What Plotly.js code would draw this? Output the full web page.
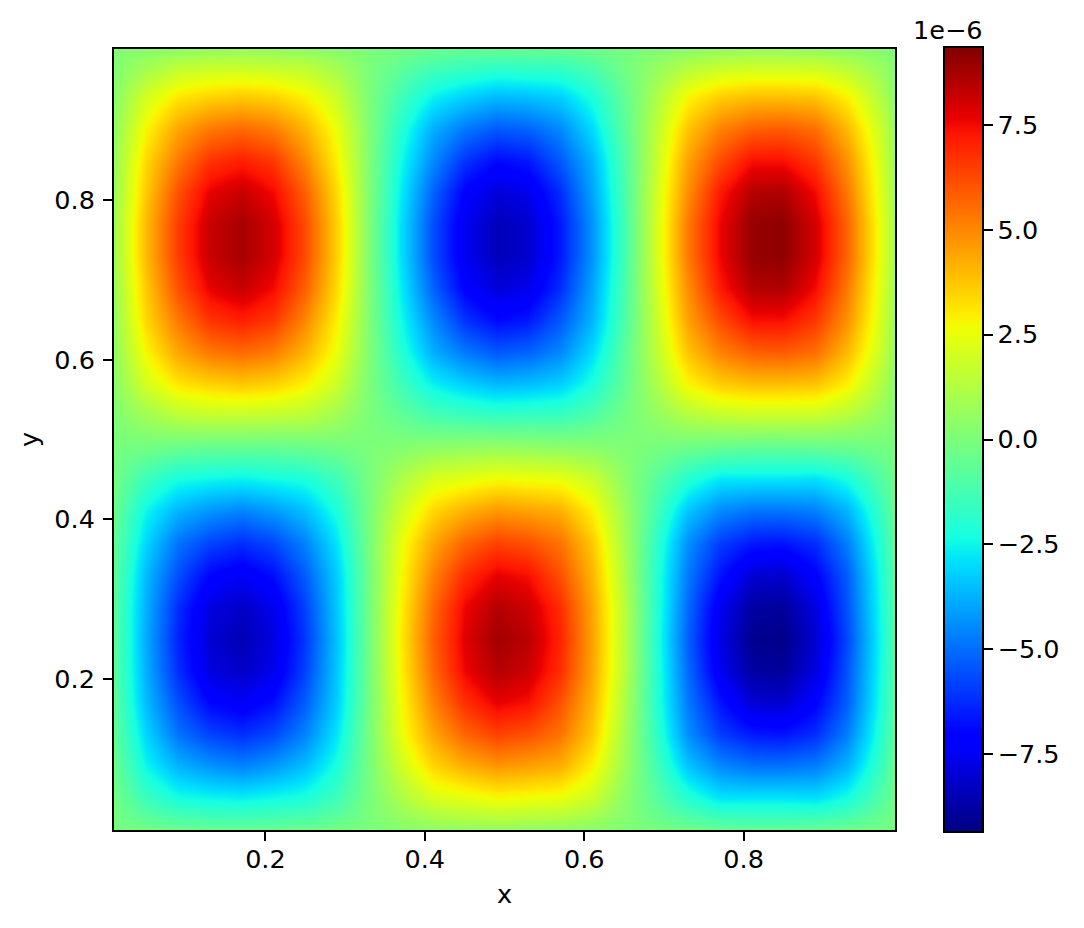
<!DOCTYPE html>
<html>
<head>
<meta charset="utf-8">
<script src="https://cdn.plot.ly/plotly-3.0.1.min.js"></script>
<style>html,body{margin:0;padding:0;background:#fff}</style>
</head>
<body>
<div id="chart" style="width:1084px;height:928px"></div>
<script>
const xValues = [0.01,0.05,0.09,0.13,0.17,0.21,0.25,0.29,0.33,0.37,0.41,0.45,0.49,0.53,0.57,0.61,0.65,0.69,0.73,0.77,0.81,0.85,0.89,0.93,0.97,0.99];
const yValues = [0.01,0.05,0.09,0.13,0.17,0.21,0.25,0.29,0.33,0.37,0.41,0.45,0.49,0.53,0.57,0.61,0.65,0.69,0.73,0.77,0.81,0.85,0.89,0.93,0.97,0.99];
// values in units of 1e-6, rows run from y = 0.01 up to y = 0.99
const zValues = [
[-.1,-.2,-.4,-.5,-.5,-.5,-.4,-.2,0,.2,.4,.5,.6,.5,.4,.3,.1,-.1,-.3,-.5,-.6,-.6,-.5,-.4,-.2,-.1],
[-.2,-1.5,-2.3,-2.5,-2.6,-2.4,-2.2,-1.4,-.1,1.1,2.1,2.4,2.7,2.6,2.5,1.8,.4,-.8,-2.0,-2.8,-2.8,-2.8,-2.9,-2.3,-1.0,-.3],
[-.4,-2.5,-3.7,-4.3,-4.6,-4.2,-3.5,-2.2,-.1,1.9,3.4,4.2,4.7,4.5,4.2,2.9,.8,-1.3,-3.4,-4.5,-4.9,-4.9,-4.7,-3.7,-1.7,-.5],
[-.6,-3.1,-4.9,-5.8,-6.2,-5.7,-4.6,-2.8,-.1,2.5,4.4,5.7,6.4,6.1,5.4,3.7,1.0,-1.7,-4.4,-5.9,-6.6,-6.7,-6.2,-4.7,-2.1,-.7],
[-.7,-3.6,-5.6,-7.0,-7.4,-6.8,-5.3,-3.2,-.2,2.7,5.1,6.8,7.7,7.4,6.1,4.1,1.2,-1.9,-4.8,-6.7,-8.0,-8.1,-7.1,-5.3,-2.4,-.8],
[-.8,-3.8,-6.2,-7.8,-8.2,-7.6,-5.8,-3.3,-.2,2.9,5.6,7.6,8.5,8.1,6.8,4.4,1.4,-1.9,-5.1,-7.5,-8.8,-8.9,-7.8,-5.5,-2.5,-.9],
[-.8,-3.9,-6.4,-8.0,-8.5,-7.8,-6.0,-3.4,-.2,3.0,5.8,7.8,8.8,8.4,7.0,4.5,1.4,-2.0,-5.3,-7.7,-9.1,-9.2,-8.1,-5.7,-2.6,-.9],
[-.8,-3.8,-6.2,-7.8,-8.2,-7.6,-5.8,-3.3,-.2,2.9,5.6,7.6,8.5,8.1,6.8,4.4,1.4,-1.9,-5.1,-7.5,-8.8,-8.9,-7.8,-5.5,-2.5,-.9],
[-.7,-3.6,-5.6,-7.0,-7.4,-6.8,-5.3,-3.2,-.2,2.7,5.1,6.8,7.7,7.4,6.1,4.1,1.2,-1.9,-4.8,-6.7,-8.0,-8.1,-7.1,-5.3,-2.4,-.8],
[-.6,-3.1,-4.9,-5.8,-6.2,-5.7,-4.6,-2.8,-.1,2.5,4.4,5.7,6.4,6.1,5.4,3.7,1.0,-1.7,-4.4,-5.9,-6.6,-6.7,-6.2,-4.7,-2.1,-.7],
[-.4,-2.5,-3.7,-4.3,-4.6,-4.2,-3.5,-2.2,-.1,1.9,3.4,4.2,4.7,4.5,4.2,2.9,.8,-1.3,-3.4,-4.5,-4.9,-4.9,-4.7,-3.7,-1.7,-.5],
[-.2,-1.5,-2.3,-2.5,-2.6,-2.4,-2.2,-1.4,-.1,1.1,2.1,2.4,2.7,2.6,2.5,1.8,.4,-.8,-2.0,-2.8,-2.8,-2.8,-2.9,-2.3,-1.0,-.3],
[-.1,-.2,-.4,-.5,-.5,-.5,-.4,-.2,0,.2,.4,.5,.6,.5,.4,.3,.1,-.1,-.3,-.5,-.6,-.6,-.5,-.4,-.2,-.1],
[.1,.8,1.4,1.6,1.6,1.5,1.4,.8,0,-.6,-1.2,-1.4,-1.6,-1.5,-1.5,-1.0,-.2,.5,1.2,1.6,1.7,1.7,1.7,1.3,.6,.2],
[.3,2.0,3.1,3.5,3.7,3.5,2.9,1.8,0,-1.4,-2.6,-3.2,-3.6,-3.5,-3.2,-2.2,-.6,1.1,2.8,3.6,3.9,3.9,3.8,2.9,1.3,.4],
[.5,2.8,4.4,5.3,5.6,5.2,4.1,2.5,.1,-2.0,-3.8,-4.8,-5.4,-5.2,-4.5,-3.0,-.8,1.5,3.8,5.1,5.8,5.9,5.5,4.0,1.9,.6],
[.6,3.4,5.3,6.7,7.1,6.6,5.0,2.9,.1,-2.4,-4.5,-6.1,-6.9,-6.6,-5.4,-3.7,-1.1,1.7,4.5,6.2,7.4,7.4,6.6,4.8,2.2,.7],
[.7,3.7,6.1,7.7,8.2,7.5,5.8,3.3,.1,-2.7,-5.2,-7.1,-7.9,-7.6,-6.2,-4.0,-1.2,1.9,4.9,7.2,8.5,8.6,7.5,5.3,2.4,.8],
[.8,4.0,6.5,8.2,8.7,8.0,6.2,3.5,.1,-2.9,-5.6,-7.5,-8.4,-8.1,-6.6,-4.3,-1.3,2.0,5.3,7.6,9.0,9.1,8.0,5.7,2.6,.9],
[.8,4.0,6.5,8.2,8.7,8.0,6.2,3.5,.1,-2.9,-5.6,-7.5,-8.4,-8.1,-6.6,-4.3,-1.3,2.0,5.3,7.6,9.0,9.1,8.0,5.7,2.6,.9],
[.7,3.7,6.1,7.7,8.2,7.5,5.8,3.3,.1,-2.7,-5.2,-7.1,-7.9,-7.6,-6.2,-4.0,-1.2,1.9,4.9,7.2,8.5,8.6,7.5,5.3,2.4,.8],
[.6,3.4,5.3,6.7,7.1,6.6,5.0,2.9,.1,-2.4,-4.5,-6.1,-6.9,-6.6,-5.4,-3.7,-1.1,1.7,4.5,6.2,7.4,7.4,6.6,4.8,2.2,.7],
[.5,2.8,4.4,5.3,5.6,5.2,4.1,2.5,.1,-2.0,-3.8,-4.8,-5.4,-5.2,-4.5,-3.0,-.8,1.5,3.8,5.1,5.8,5.9,5.5,4.0,1.9,.6],
[.3,2.0,3.1,3.5,3.7,3.5,2.9,1.8,0,-1.4,-2.6,-3.2,-3.6,-3.5,-3.2,-2.2,-.6,1.1,2.8,3.6,3.9,3.9,3.8,2.9,1.3,.4],
[.1,.8,1.4,1.6,1.6,1.5,1.4,.8,0,-.6,-1.2,-1.4,-1.6,-1.5,-1.5,-1.0,-.2,.5,1.2,1.6,1.7,1.7,1.7,1.3,.6,.2],
[.1,.3,.4,.5,.6,.5,.4,.2,0,-.2,-.4,-.5,-.5,-.5,-.4,-.3,-.1,.1,.3,.5,.6,.6,.5,.4,.2,.1]
];
const xTicks = [0.2,0.4,0.6,0.8];
const yTicks = [0.2,0.4,0.6,0.8];
const barTicks = [-7.5,-5,-2.5,0,2.5,5,7.5];
const barTickLabels = ["\u22127.5","\u22125.0","\u22122.5","0.0","2.5","5.0","7.5"];
const jet = [
 [0,"rgb(0,0,128)"],[0.11,"rgb(0,0,255)"],[0.125,"rgb(0,0,255)"],[0.34,"rgb(0,219,255)"],
 [0.35,"rgb(0,230,247)"],[0.375,"rgb(21,255,226)"],[0.64,"rgb(238,255,4)"],[0.65,"rgb(247,246,0)"],
 [0.66,"rgb(255,236,0)"],[0.89,"rgb(255,20,0)"],[0.91,"rgb(232,0,0)"],[1,"rgb(128,0,0)"]
];
const font = {family:"DejaVu Sans", size:25.5, color:"#000"};
const axis = {
  showgrid:false, zeroline:false, showline:true, mirror:true, linecolor:"#000", linewidth:2,
  ticks:"outside", ticklen:9, tickwidth:2, tickcolor:"#000", tickfont:font, tickformat:".1f"
};
Plotly.newPlot("chart",[{
  type:"heatmap", x:xValues, y:yValues, z:zValues, colorscale:jet, zauto:false, zmin:-9.35, zmax:9.35, zsmooth:"best",
  hoverinfo:"skip",
  colorbar:{
    thickness:39, thicknessmode:"pixels", len:785, lenmode:"pixels", x:1.0627, xanchor:"left", xpad:0, ypad:0, y:0.5, yanchor:"middle",
    outlinewidth:2, outlinecolor:"#000", ticks:"outside", ticklen:9, tickwidth:2, tickcolor:"#000",
    tickmode:"array", tickvals:barTicks, ticktext:barTickLabels, tickfont:font
  }
}],{
  width:1084, height:928, margin:{l:114,r:189,t:49,b:98,pad:0},
  paper_bgcolor:"#fff", plot_bgcolor:"#fff", font:font,
  xaxis:Object.assign({},axis,{range:[0.01,0.99],tickvals:xTicks,tickmode:"array",ticklabelstandoff:-4,title:{text:"x",font:font,standoff:13}}),
  yaxis:Object.assign({},axis,{range:[0.01,0.99],tickvals:yTicks,tickmode:"array",ticklabelstandoff:3,title:{text:"y",font:font,standoff:8}}),
  annotations:[{xref:"paper",yref:"paper",x:1.068,y:1.0243,xanchor:"center",yanchor:"middle",showarrow:false,text:"1e\u22126",font:font}]
},{displayModeBar:false,staticPlot:true});
</script>
</body>
</html>
